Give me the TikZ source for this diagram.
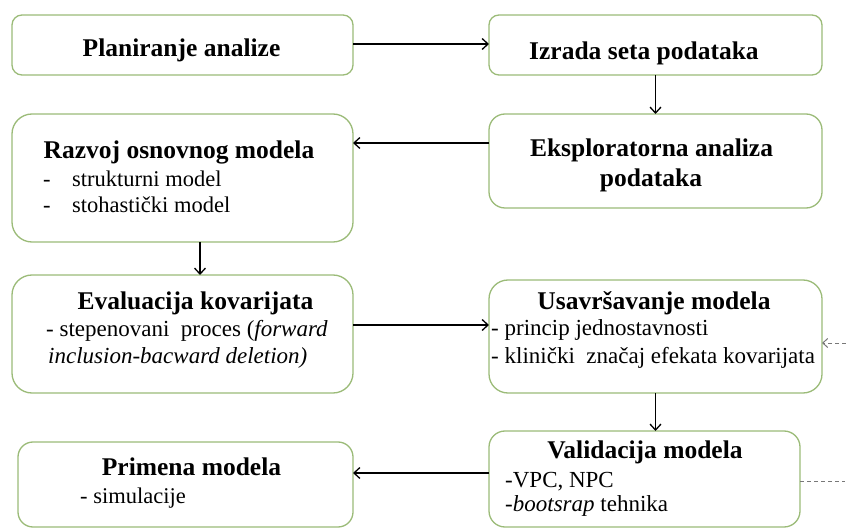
\documentclass[tikz,border=0pt]{standalone}
\usepackage{fontspec}
\setmainfont{Liberation Serif}
\usetikzlibrary{arrows.meta}
\definecolor{boxgreen}{RGB}{155,187,120}
\definecolor{dashgray}{RGB}{120,120,120}
\tikzset{
  box/.style={draw=boxgreen, line width=1.3pt, fill=white, inner sep=0pt, outer sep=0pt, rectangle},
  ttl/.style={inner sep=0pt, anchor=base, font=\fontsize{25.5}{29}\selectfont\bfseries},
  bodyl/.style={inner sep=0pt, anchor=base west, font=\fontsize{23}{26}\selectfont},
  bodys/.style={bodyl, font=\fontsize{22.5}{26}\selectfont},
  arr/.style={line width=1.3pt, -{Straight Barb[length=6pt,width=11pt,line width=1.3pt]}},
  darr/.style={line width=1pt, dashgray, dash pattern=on 4pt off 3pt, -{Straight Barb[length=5pt,width=9pt,line width=1pt]}},
  dline/.style={line width=1pt, dashgray, dash pattern=on 4pt off 3pt}
}
\begin{document}
\begin{tikzpicture}[x=1pt,y=-1pt]
\useasboundingbox (0,0) rectangle (846,529);
% boxes
\node[box, minimum width=341pt, minimum height=60pt, rounded corners=10pt] (b1) at (182.5,45) {};
\node[box, minimum width=333pt, minimum height=60pt, rounded corners=10pt] (b2) at (655.5,45) {};
\node[box, minimum width=341pt, minimum height=128pt, rounded corners=20pt] (b3) at (182.5,178) {};
\node[box, minimum width=333pt, minimum height=94pt, rounded corners=16pt] (b4) at (655.5,161) {};
\node[box, minimum width=341pt, minimum height=118pt, rounded corners=20pt] (b5) at (182.5,334) {};
\node[box, minimum width=333pt, minimum height=113pt, rounded corners=19pt] (b6) at (655.5,336.5) {};
\node[box, minimum width=311pt, minimum height=96pt, rounded corners=16pt] (b7) at (644.5,479) {};
\node[box, minimum width=335pt, minimum height=85pt, rounded corners=15pt] (b8) at (185.5,484.5) {};
% texts
\node[ttl] (t1) at (181.5,57) {Planiranje analize};
\node[ttl] (t2) at (644,60) {Izrada seta podataka};
\node[ttl] (t3) at (179,159) {Razvoj osnovnog modela};
\node[bodys] (t3a) at (43,187) {-};
\node[bodys] (t3b) at (72,187) {strukturni model};
\node[bodys] (t3c) at (43,213) {-};
\node[bodys] (t3d) at (72,213) {stohastički model};
\node[ttl] (t4a) at (651.5,157) {Eksploratorna analiza};
\node[ttl] (t4b) at (651,187) {podataka};
\node[ttl] (t5) at (195.5,309) {Evaluacija kovarijata};
\node[bodyl] (t5a) at (46,337) {- stepenovani\ \ proces (\textit{forward}};
\node[bodyl] (t5b) at (48,363) {\textit{inclusion-bacward deletion)}};
\node[ttl] (t6) at (654,309) {Usavršavanje modela};
\node[bodyl] (t6a) at (491,335) {- princip jednostavnosti};
\node[bodyl] (t6b) at (491,363) {- klinički\ \ značaj efekata kovarijata};
\node[ttl] (t7) at (645,458) {Validacija modela};
\node[bodyl] (t7a) at (505,487) {-VPC, NPC};
\node[bodyl] (t7b) at (505,511) {-\textit{bootsrap} tehnika};
\node[ttl] (t8) at (191.5,475) {Primena modela};
\node[bodys] (t8a) at (80,503) {- simulacije};
% connectors
\draw[arr] (b1.east |- 0,44) -- (b2.west |- 0,44);
\draw[arr] (b2.south) -- (b2.south |- b4.north);
\draw[arr] (b4.west |- 0,143) -- (b3.east |- 0,143);
\draw[arr] ([xshift=17.5pt]b3.south) -- ([xshift=17.5pt]b3.south |- b5.north);
\draw[arr] (b5.east |- 0,325) -- (b6.west |- 0,325);
\draw[arr] (b6.south) -- (b6.south |- b7.north);
\draw[arr] (b7.west |- 0,473) -- (b8.east |- 0,473);
\coordinate (eR) at (845,481);
\coordinate (eS) at (846,343);
\draw[dline] (b7.east |- eR) -- (eR);
\draw[darr] (eS) -- (b6.east |- eS);
\end{tikzpicture}
\end{document}
